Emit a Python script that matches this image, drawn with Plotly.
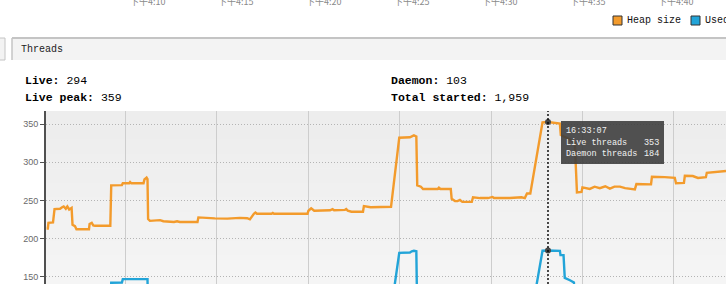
import plotly.graph_objects as go

# ---------------- data ----------------
DAY = "2024-01-01 "

live_times = [
    "16:05:42", "16:05:46", "16:05:48", "16:06:03", "16:06:08", "16:06:26", "16:06:33", "16:06:38",
    "16:06:45", "16:06:50", "16:06:56", "16:07:04", "16:07:07", "16:07:15", "16:07:20", "16:08:01",
    "16:08:03", "16:08:10", "16:08:15", "16:08:21", "16:09:11", "16:09:14", "16:09:49", "16:09:52",
    "16:10:13", "16:10:16", "16:10:20", "16:11:00", "16:11:03", "16:11:10", "16:11:13", "16:11:15",
    "16:11:21", "16:11:40", "16:11:54", "16:12:05", "16:12:27", "16:12:40", "16:12:50", "16:12:59",
    "16:13:57", "16:14:00", "16:14:54", "16:15:05", "16:15:27", "16:15:35", "16:16:16", "16:16:40",
    "16:16:49", "16:16:58", "16:17:02", "16:17:07", "16:17:12", "16:18:00", "16:18:04", "16:18:08",
    "16:19:58", "16:20:01", "16:20:10", "16:20:20", "16:21:12", "16:21:20", "16:21:25", "16:22:01",
    "16:22:05", "16:22:10", "16:22:22", "16:23:00", "16:23:03", "16:23:25", "16:24:32", "16:24:59",
    "16:25:34", "16:25:47", "16:25:55", "16:25:58", "16:26:10", "16:26:17", "16:27:05", "16:27:09",
    "16:27:14", "16:27:48", "16:27:51", "16:28:02", "16:28:10", "16:28:18", "16:28:26", "16:28:57",
    "16:29:01", "16:29:24", "16:29:50", "16:30:05", "16:30:10", "16:31:02", "16:31:40", "16:31:51",
    "16:31:58", "16:32:09", "16:32:49", "16:33:07", "16:33:46", "16:33:49", "16:34:19", "16:34:35",
    "16:34:42", "16:34:57", "16:35:00", "16:35:24", "16:35:40", "16:35:57", "16:36:15", "16:36:30",
    "16:36:45", "16:37:03", "16:37:20", "16:37:52", "16:37:57", "16:38:45", "16:38:48", "16:39:30",
    "16:40:03", "16:40:07", "16:40:33", "16:40:36", "16:41:02", "16:41:19", "16:41:45", "16:41:48",
    "16:42:18", "16:42:51",
]
live_threads = [
    213, 213, 220.5, 221, 238.5, 239, 241, 242,
    239, 242, 238, 240, 218, 216, 212, 212,
    219, 220.5, 217, 216.6, 216.6, 269.7, 270, 272.4,
    272.4, 274, 272.4, 272.4, 277.6, 280, 278, 225.4,
    223, 223.5, 224, 222.5, 222, 221.5, 222.5, 221.5,
    221.5, 227.6, 226.3, 226.3, 226.5, 226, 227, 226.5,
    225, 231, 232.4, 234, 232.4, 232.4, 233.5, 232.4,
    232.4, 236.3, 239.5, 236.3, 237, 238.5, 237, 237.5,
    238.5, 236.5, 235, 235, 242.5, 241, 241.5, 332.4,
    333, 335.5, 334, 269.7, 268, 265, 265, 266.8,
    265, 265, 252, 249, 249, 250.5, 248, 248,
    254, 253, 253, 254.5, 253, 253, 254, 253,
    259, 259, 352.6, 353, 351, 336, 330, 325,
    260.5, 261, 267, 265, 268, 266, 268.5, 265.5,
    268, 268, 266, 264.5, 271.4, 271, 281, 280.5,
    279.7, 272.4, 273, 282.4, 282, 279.5, 280.5, 286.3,
    287, 288.5,
]

daemon_times = [
    "16:05:42", "16:06:08", "16:07:07", "16:08:03", "16:09:11", "16:09:14", "16:09:49", "16:09:52",
    "16:11:13", "16:11:15", "16:14:00", "16:20:01", "16:23:03", "16:24:32", "16:24:59", "16:25:34",
    "16:25:40", "16:25:47", "16:25:55", "16:25:58", "16:28:02", "16:32:09", "16:32:49", "16:33:07",
    "16:33:46", "16:33:48", "16:33:58", "16:34:02", "16:34:19", "16:34:32", "16:34:37", "16:38:48",
    "16:42:51",
]
daemon_threads = [
    88, 100, 92, 95, 92, 141.6, 141.8, 146.4,
    146.4, 98, 100, 103, 105, 105, 181, 181.5,
    183, 183.7, 183, 100, 95, 92, 183.7, 184,
    183.5, 178, 178, 148, 145, 142, 100, 102,
    103,
]

y_ticks = [150, 200, 250, 300, 350]
top_tick_labels = ["下午4:10", "下午4:15", "下午4:20", "下午4:25", "下午4:30", "下午4:35", "下午4:40"]
legend_labels = ["Heap size", "Used heap"]
stats = [("Live:", "294"), ("Live peak:", "359"), ("Daemon:", "103"), ("Total started:", "1,959")]
hover_time = "16:33:07"

ORANGE = "#f39b2c"
BLUE = "#22a4d8"

# ---------------- helpers (pixel -> paper) ----------------
W, H = 726, 284
L, T = 46, 111
PW, PH = W - L, H - T


def px(p):
    return (p - L) / PW


def py(p):
    return (H - p) / PH


lx = [DAY + t for t in live_times]
dx = [DAY + t for t in daemon_times]

fig = go.Figure()
fig.add_trace(go.Scatter(x=lx, y=live_threads, mode="lines", name="Live threads",
                         line=dict(color=ORANGE, width=2.4, shape="linear"), hoverinfo="skip"))
fig.add_trace(go.Scatter(x=dx, y=daemon_threads, mode="lines", name="Daemon threads",
                         line=dict(color=BLUE, width=2.4), hoverinfo="skip"))

hv_live = live_threads[live_times.index(hover_time)]
hv_daemon = daemon_threads[daemon_times.index(hover_time)]
fig.add_trace(go.Scatter(x=[DAY + hover_time, DAY + hover_time], y=[hv_live, hv_daemon],
                         mode="markers", marker=dict(color="#474747", size=6), hoverinfo="skip"))

shapes = []
# plot background gradient
n = 12
for i in range(n):
    c = int(237 + (245 - 237) * i / (n - 1))
    shapes.append(dict(type="rect", xref="paper", yref="paper", x0=0, x1=1,
                       y0=1 - (i + 1) / n, y1=1 - i / n, layer="below",
                       fillcolor=f"rgb({c},{c},{c})", line=dict(width=0)))
# hover dotted line
shapes.append(dict(type="line", xref="x", yref="paper", x0=DAY + hover_time, x1=DAY + hover_time,
                   y0=0, y1=1, layer="above", line=dict(color="#000", width=1.4, dash="2px,2px")))
# tooltip box
shapes.append(dict(type="rect", xref="paper", yref="paper", x0=px(561), x1=px(664),
                   y0=py(164), y1=py(121), layer="above",
                   fillcolor="rgba(62,62,62,0.9)", line=dict(width=0)))
# panel header
shapes.append(dict(type="rect", xref="paper", yref="paper", x0=px(-2), x1=px(5),
                   y0=py(60), y1=py(38), fillcolor="#f3f3f3", line=dict(color="#c4c4c4", width=1)))
shapes.append(dict(type="rect", xref="paper", yref="paper", x0=px(12), x1=px(730),
                   y0=py(60), y1=py(38), fillcolor="#f3f3f3", line=dict(width=0)))
shapes.append(dict(type="line", xref="paper", yref="paper", x0=px(12), x1=px(730),
                   y0=py(38), y1=py(38), line=dict(color="#c4c4c4", width=2)))
shapes.append(dict(type="line", xref="paper", yref="paper", x0=px(12), x1=px(12),
                   y0=py(60), y1=py(38), line=dict(color="#c4c4c4", width=1.5)))
# legend squares of upper chart
for i, col in enumerate([ORANGE, BLUE]):
    x0 = 613 + i * 78
    shapes.append(dict(type="rect", xref="paper", yref="paper", x0=px(x0), x1=px(x0 + 9),
                       y0=py(25), y1=py(16), fillcolor=col, line=dict(color="#333", width=1)))

ann = []
MONO = "Liberation Mono"
# top tick labels (cut off at the top edge, as in the reference)
for i, t in enumerate(top_tick_labels):
    ann.append(dict(text=t, xref="paper", yref="paper", x=px(148 + i * 88), y=py(1),
                    xanchor="center", yanchor="middle", showarrow=False,
                    font=dict(family="Noto Sans CJK SC", size=9, color="#8a8a8a")))
# legend labels
for i, t in enumerate(legend_labels):
    ann.append(dict(text=t, xref="paper", yref="paper", x=px(625 + i * 78), y=py(20.5),
                    xanchor="left", yanchor="middle", showarrow=False,
                    font=dict(family=MONO, size=10, color="#111")))
# header
ann.append(dict(text="Threads", xref="paper", yref="paper", x=px(19), y=py(49.5),
                xanchor="left", yanchor="middle", showarrow=False,
                font=dict(family=MONO, size=10, color="#222")))
# stats
stat_pos = [(23, 80.5), (23, 97.5), (389, 80.5), (389, 97.5)]
for (lab, val), (sx, sy) in zip(stats, stat_pos):
    ann.append(dict(text=f"<b>{lab}</b> {val}", xref="paper", yref="paper", x=px(sx), y=py(sy),
                    xanchor="left", yanchor="middle", showarrow=False,
                    font=dict(family=MONO, size=11.5, color="#000")))
# tooltip text
tip_rows = [(hover_time, ""), ("Live threads", f"{hv_live:g}"), ("Daemon threads", f"{hv_daemon:g}")]
for i, (lab, val) in enumerate(tip_rows):
    yy = 131 + i * 11.5
    ann.append(dict(text=lab, xref="paper", yref="paper", x=px(564), y=py(yy),
                    xanchor="left", yanchor="middle", showarrow=False,
                    font=dict(family=MONO, size=8.5, color="#f2f2f2")))
    if val:
        ann.append(dict(text=val, xref="paper", yref="paper", x=px(661), y=py(yy),
                        xanchor="right", yanchor="middle", showarrow=False,
                        font=dict(family=MONO, size=8.5, color="#f2f2f2")))

fig.update_layout(
    width=W, height=H,
    margin=dict(l=L, r=0, t=T, b=0, pad=0),
    paper_bgcolor="white", plot_bgcolor="#f1f1f1",
    showlegend=False,
    shapes=shapes, annotations=ann,
    xaxis=dict(type="date", range=[DAY + "16:05:40", DAY + "16:42:51"],
               tick0=DAY + "16:00:00", dtick=300000, showgrid=True, gridcolor="#cdcdcd",
               gridwidth=1, showticklabels=False, zeroline=False, showline=False, ticks=""),
    yaxis=dict(range=[140, 367.5], tickvals=y_ticks, showgrid=True, gridcolor="#b4b4b4",
               griddash="1px,2px", gridwidth=1, zeroline=False, showline=True, linecolor="#505050",
               linewidth=2, ticks="outside", ticklen=4, tickcolor="#505050",
               tickfont=dict(family="Liberation Sans", size=9, color="#6a6a6a")),
)

fig.write_html("out.html")
